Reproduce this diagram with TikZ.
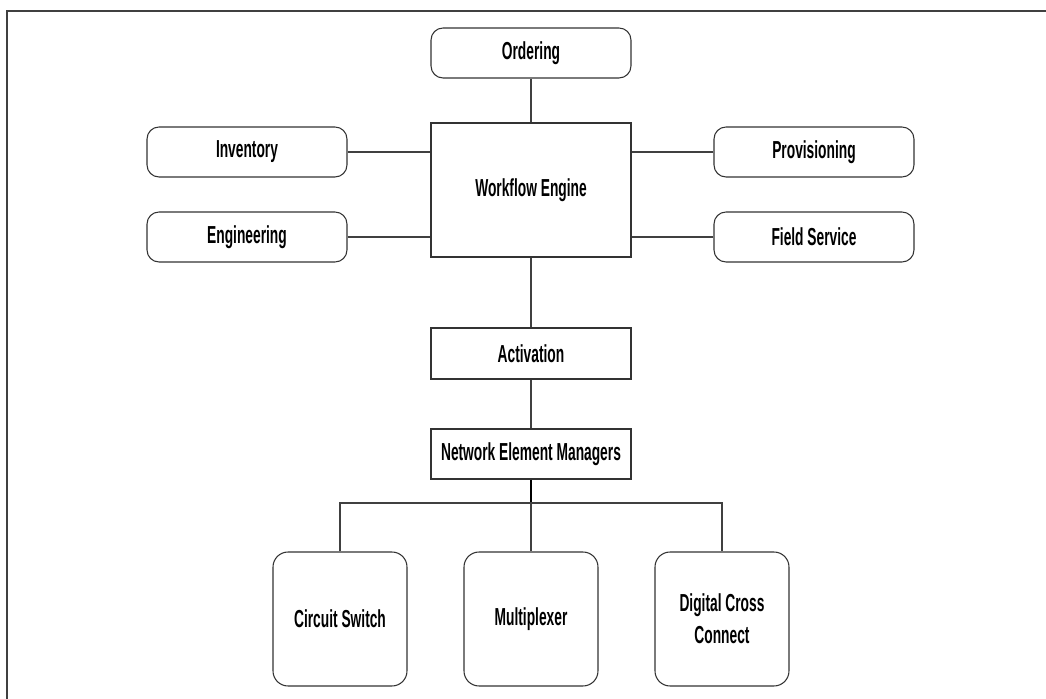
\documentclass[tikz,border=0pt]{standalone}
\usepackage{fontspec}
\setmainfont{Liberation Sans}[FakeStretch=0.56]
\usepackage{tikz}

\begin{document}
\begin{tikzpicture}[x=0.02cm, y=-0.02cm,
    every node/.style={draw=black!80, line width=0.6pt, inner sep=0pt, align=center, font=\fontsize{14}{18}\selectfont\bfseries},
    roundbox/.style={rounded corners=0.24cm, minimum width=4cm, minimum height=1cm},
    sqbox/.style={minimum width=4cm},
    devbox/.style={rounded corners=0.3cm, minimum width=2.68cm, minimum height=2.68cm},
    link/.style={draw=black!75, line width=0.6pt}]
                    \useasboundingbox (0,0) rectangle (1046,699);
                    % Frame
                    \draw[black!75, line width=1.2pt] (7,699) -- (7,11) -- (1046,11);

                    % Nodes
                    \node[roundbox] (ordering) at (531,53) {Ordering};
                    \node[sqbox, minimum height=2.68cm] (engine) at (531,190) {Workflow Engine};
                    \node[roundbox] (inventory) at (247,152) {Inventory};
                    \node[roundbox] (engineering) at (247,237) {Engineering};
                    \node[roundbox] (provisioning) at (814,152) {Provisioning};
                    \node[roundbox] (fieldservice) at (814,237) {Field Service};
                    \node[sqbox, minimum height=1.02cm] (activation) at (531,353.5) {Activation};
                    \node[sqbox, minimum height=1cm] (nem) at (531,454) {Network Element Managers};
                    \node[devbox] (cswitch) at (340,619) {Circuit Switch};
                    \node[devbox] (mux) at (531,619) {Multiplexer};
                    \node[devbox] (dcc) at (722,619) {Digital Cross\\Connect};
                    \coordinate (bus) at (531,503);

                    % Links to the workflow engine
                    \draw[link] (ordering) -- (engine);
                    \draw[link] (inventory) -- (inventory -| engine.west);
                    \draw[link] (engineering) -- (engineering -| engine.west);
                    \draw[link] (provisioning) -- (provisioning -| engine.east);
                    \draw[link] (fieldservice) -- (fieldservice -| engine.east);

                    % Down to the network elements
                    \draw[link] (engine) -- (activation);
                    \draw[link] (activation) -- (nem);
                    \draw[black, line width=1.1pt] (nem) -- (bus);
                    \draw[link] (cswitch.north) |- (bus) -| (dcc.north);
                    \draw[link] (bus) -- (mux);
                \end{tikzpicture}
\end{document}
